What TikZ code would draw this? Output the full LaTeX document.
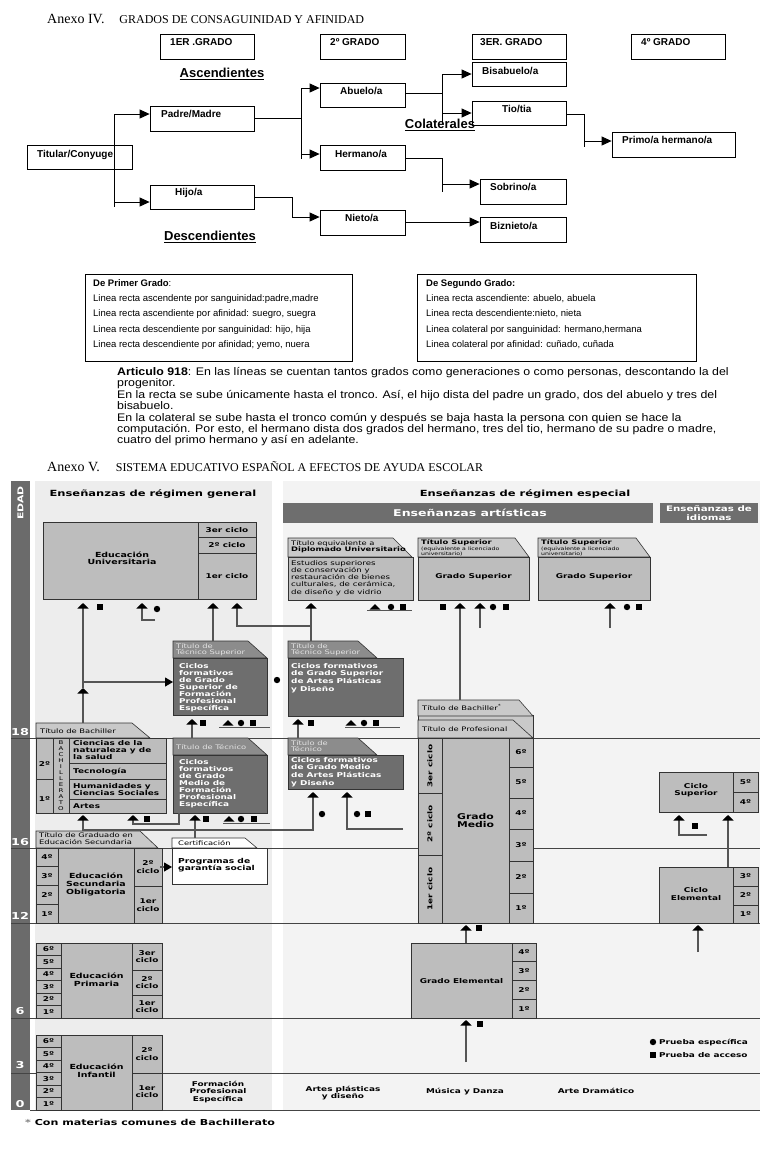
\documentclass[tikz,border=0pt]{standalone}
\usepackage{fontspec}
\setmainfont{Liberation Serif}
\newfontfamily\arialf{Liberation Sans}
\newfontfamily\arialw{Liberation Sans}[FakeStretch=1.123]
\newfontfamily\vf{DejaVu Sans}[FakeStretch=1.35]
\usetikzlibrary{arrows.meta}
\definecolor{edadc}{HTML}{6B6B6B}
\definecolor{panl}{HTML}{EDEDED}
\definecolor{panr}{HTML}{F3F3F3}
\definecolor{boxc}{HTML}{BDBDBD}
\definecolor{darkc}{HTML}{6E6E6E}
\definecolor{tabd}{HTML}{8C8C8C}
\definecolor{tabl}{HTML}{C9C9C9}
\definecolor{bordc}{HTML}{333333}
\definecolor{stemc}{HTML}{555555}
\definecolor{linec}{HTML}{444444}
\definecolor{tabtext}{HTML}{E2E2E2}
\newcommand{\Rect}[6]{\node[bx, fill=#6, minimum width={(#4)-(#2)}, minimum height={(#5)-(#3)}] (#1) at (#2,#3) {};}
\newcommand{\TabS}[6]{\filldraw[fill=#5, draw=bordc, line width=0.6pt] (#1,#4) -- (#1,#2) -- ({#3-#6},#2) -- (#3,#4) -- cycle;}
\newcommand{\MTri}[2]{\fill[black] ({#1-5.5},{#2+2.5}) -- ({#1+5.5},{#2+2.5}) -- (#1,{#2-3}) -- cycle;}
\newcommand{\MSq}[2]{\fill[black] ({#1-3},{#2-3}) rectangle ({#1+3},{#2+3});}
\newcommand{\MCir}[2]{\fill[black] (#1,#2) circle (3.2pt);}
\begin{document}
\begin{tikzpicture}[x=1pt,y=-1pt,
  tb/.style={draw=black, line width=0.8pt, inner sep=0pt},
  lab/.style={font=\arialf\bfseries\fontsize{10}{10}\selectfont, inner sep=0pt, anchor=mid west},
  hdl/.style={font=\arialf\bfseries\fontsize{13}{13}\selectfont, inner sep=0pt},
  tl/.style={draw=black, line width=0.8pt},
  tarr/.style={draw=black, line width=0.8pt, -{Triangle[width=9pt,length=10pt]}},
  sm/.style={font=\arialf\fontsize{9.5}{10}\selectfont, inner sep=0pt, anchor=mid west},
  para/.style={font=\arialw\fontsize{11}{11}\selectfont, inner sep=0pt, anchor=mid west},
  bx/.style={draw=bordc, line width=0.7pt, inner sep=0pt, anchor=north west},
  il/.style={draw=bordc, line width=0.7pt},
  agel/.style={draw=linec, line width=0.8pt},
  vh/.style={font=\vf\bfseries\fontsize{8.5}{9}\selectfont, inner sep=0pt},
  vb/.style={font=\vf\bfseries\fontsize{6.6}{7.3}\selectfont, inner sep=0pt, align=center},
  vbl/.style={font=\vf\bfseries\fontsize{6.6}{7}\selectfont, inner sep=0pt, align=left, anchor=north west},
  vn/.style={font=\vf\fontsize{6.2}{6.8}\selectfont, inner sep=0pt, align=left, anchor=north west},
  agen/.style={font=\vf\bfseries\fontsize{9.5}{9.5}\selectfont, text=white, inner sep=0pt},
  upar/.style={draw=stemc, line width=1.1pt, -{Triangle[width=11pt,length=5.5pt,color=black]}},
  rtar/.style={draw=stemc, line width=1.1pt, -{Triangle[width=9pt,length=8pt,color=black]}}]
\useasboundingbox (0,0) rectangle (771,1154);
\fill[white] (0,0) rectangle (771,1154);

% ================= ANEXO IV =================
\node[anchor=base west, inner sep=0pt] (ttl4) at (47,23) {\fontsize{14}{14}\selectfont Anexo IV.\hspace{15pt}\fontsize{12}{12}\selectfont GRADOS DE CONSAGUINIDAD Y AFINIDAD};

\node[tb, minimum width=94, minimum height=25] (g1) at (207,46.5) {};
\node[lab] (g1t) at (170,43) {1ER .GRADO};
\node[tb, minimum width=85, minimum height=25] (g2) at (362.5,46.5) {};
\node[lab] (g2t) at (330,43) {2º GRADO};
\node[tb, minimum width=94, minimum height=25] (g3) at (519,46.5) {};
\node[lab] (g3t) at (480,43) {3ER. GRADO};
\node[tb, minimum width=94, minimum height=25] (g4) at (678,46.5) {};
\node[lab] (g4t) at (641,43) {4º GRADO};

\node[tb, minimum width=105, minimum height=24] (tit) at (79.5,157) {};
\node[tb, minimum width=104, minimum height=25] (pad) at (202,118.5) {};
\node[tb, minimum width=104, minimum height=24] (hij) at (202,197) {};
\node[tb, minimum width=85, minimum height=24] (abu) at (362.5,95) {};
\node[tb, minimum width=85, minimum height=25] (her) at (362.5,157.5) {};
\node[tb, minimum width=85, minimum height=25] (nie) at (362.5,222.5) {};
\node[tb, minimum width=94, minimum height=24] (bis) at (519,74) {};
\node[tb, minimum width=94, minimum height=24] (tio) at (519,113) {};
\node[tb, minimum width=86, minimum height=25] (sob) at (523,191.5) {};
\node[tb, minimum width=86, minimum height=25] (biz) at (523,229.5) {};
\node[tb, minimum width=123, minimum height=25] (pri) at (673.5,144.5) {};

\node[lab] (titt) at (37,155) {Titular/Conyuge};
\node[lab] (padt) at (161,115) {Padre/Madre};
\node[lab] (hijt) at (175,193) {Hijo/a};
\node[lab] (abut) at (340,92) {Abuelo/a};
\node[lab] (hert) at (335,155) {Hermano/a};
\node[lab] (niet) at (345,219) {Nieto/a};
\node[lab] (bist) at (482,72) {Bisabuelo/a};
\node[lab] (tiot) at (502,110) {Tio/tia};
\node[lab] (sobt) at (490,188) {Sobrino/a};
\node[lab] (bizt) at (490,227) {Biznieto/a};
\node[lab] (prit) at (622,141) {Primo/a hermano/a};

\node[hdl] (asc) at (222,74) {\underline{Ascendientes}};
\node[hdl] (col) at (440,125) {\underline{Colaterales}};
\node[hdl] (des) at (210,237) {\underline{Descendientes}};

% connectors
\coordinate (ta) at (114,114); \coordinate (tb2) at (114,207); \coordinate (tc) at (114,202);
\draw[tl] (ta) -- (tb2);
\draw[tarr] (ta) -- (pad.west |- ta);
\draw[tarr] (tc) -- (hij.west |- tc);
\coordinate (pa) at (301,118); \coordinate (pb) at (301,88); \coordinate (pc) at (301,159); \coordinate (pd) at (301,154);
\draw[tl] (pad.east |- pa) -- (pa);
\draw[tl] (pb) -- (pc);
\draw[tarr] (pb) -- (abu.west |- pb);
\draw[tarr] (pd) -- (her.west |- pd);
\coordinate (aa) at (442,93); \coordinate (ab) at (442,74); \coordinate (ac) at (442,124); \coordinate (ad) at (442,113);
\draw[tl] (abu.east |- aa) -- (aa);
\draw[tl] (ab) -- (ac);
\draw[tarr] (ab) -- (bis.west |- ab);
\draw[tarr] (ad) -- (tio.west |- ad);
\coordinate (ha) at (442,158); \coordinate (hb) at (442,192); \coordinate (hc) at (442,184);
\draw[tl] (her.east |- ha) -- (ha) -- (hb);
\draw[tarr] (hc) -- (sob.west |- hc);
\coordinate (ia) at (292,197); \coordinate (ib) at (292,217);
\draw[tl] (hij.east |- ia) -- (ia) -- (ib);
\draw[tarr] (ib) -- (nie.west |- ib);
\coordinate (na) at (405,222);
\draw[tarr] (na) -- (biz.west |- na);
\coordinate (oa) at (584,114); \coordinate (ob) at (584,147); \coordinate (oc) at (584,141);
\draw[tl] (tio.east |- oa) -- (oa) -- (ob);
\draw[tarr] (oc) -- (pri.west |- oc);

% text boxes
\node[tb, minimum width=267, minimum height=87, anchor=north west] (bx1) at (85,274) {};
\node[sm] (b1a) at (93,284) {\textbf{De Primer Grado}:};
\node[sm] (b1b) at (93,299) {Linea recta ascendente por sanguinidad:padre,madre};
\node[sm] (b1c) at (93,314.5) {Linea recta ascendiente por afinidad: suegro, suegra};
\node[sm] (b1d) at (93,330) {Linea recta descendiente por sanguinidad: hijo, hija};
\node[sm] (b1e) at (93,345.5) {Linea recta descendiente por afinidad; yemo, nuera};
\node[tb, minimum width=279, minimum height=87, anchor=north west] (bx2) at (417,274) {};
\node[sm] (b2a) at (426,284) {\textbf{De Segundo Grado:}};
\node[sm] (b2b) at (426,299) {Linea recta ascendiente: abuelo, abuela};
\node[sm] (b2c) at (426,314.5) {Linea recta descendiente:nieto, nieta};
\node[sm] (b2d) at (426,330) {Linea colateral por sanguinidad: hermano,hermana};
\node[sm] (b2e) at (426,345.5) {Linea colateral por afinidad: cuñado, cuñada};

\node[para] (p1) at (117,373) {\textbf{Articulo 918}: En las líneas se cuentan tantos grados como generaciones o como personas, descontando la del};
\node[para] (p2) at (117,384) {progenitor.};
\node[para] (p3) at (117,396) {En la recta se sube únicamente hasta el tronco. Así, el hijo dista del padre un grado, dos del abuelo y tres del};
\node[para] (p4) at (117,407) {bisabuelo.};
\node[para] (p5) at (117,419) {En la colateral se sube hasta el tronco común y después se baja hasta la persona con quien se hace la};
\node[para] (p6) at (117,430) {computación. Por esto, el hermano dista dos grados del hermano, tres del tio, hermano de su padre o madre,};
\node[para] (p7) at (117,441) {cuatro del primo hermano y así en adelante.};

% ================= ANEXO V =================
\node[anchor=base west, inner sep=0pt] (ttl5) at (47,471) {\fontsize{14}{14}\selectfont Anexo V.\hspace{16pt}\fontsize{12}{12}\selectfont SISTEMA EDUCATIVO ESPAÑOL A EFECTOS DE AYUDA ESCOLAR};

\fill[edadc] (11,481) rectangle (30,1110);
\fill[panl] (35,481) rectangle (272,1110);
\fill[panr] (283,481) rectangle (760,1110);
\node[rotate=90, font=\vf\bfseries\fontsize{8}{8}\selectfont, text=white, inner sep=0pt] (edad) at (20.5,503) {EDAD};
\foreach \yy in {738,848,923,1018,1073} \draw[agel] (11,\yy) -- (760,\yy);
\draw[agel] (30,1110) -- (760,1110);
\node[agen] (a18) at (20,732) {18};
\node[agen] (a16) at (20,842) {16};
\node[agen] (a12) at (20,916) {12};
\node[agen] (a6) at (20,1011) {6};
\node[agen] (a3) at (20,1065) {3};
\node[agen] (a0) at (20,1104) {0};

\node[vh] (hgen) at (153,494) {Enseñanzas de régimen general};
\node[vh] (hesp) at (525,494) {Enseñanzas de régimen especial};
\fill[darkc] (283,503) rectangle (653,523);
\node[vh, text=white, font=\vf\bfseries\fontsize{9.3}{9}\selectfont] (hart) at (470,513) {Enseñanzas artísticas};
\fill[darkc] (660,503) rectangle (758,523);
\node[vb, text=white, font=\vf\bfseries\fontsize{7.6}{8.2}\selectfont] (hidi) at (709,513) {Enseñanzas de\\idiomas};

% Universitaria
\Rect{univ}{43}{522}{256}{599}{boxc}
\draw[il] (198,522) -- (198,599); \draw[il] (198,537) -- (256,537); \draw[il] (198,553) -- (256,553);
\node[vb, font=\vf\bfseries\fontsize{7}{7.5}\selectfont] (univt) at (122,558) {Educación\\Universitaria};
\node[vb] at (227,530) {3er ciclo};
\node[vb] at (227,545) {2º ciclo};
\node[vb] at (227,576) {1er ciclo};

% Diplomado
\TabS{288}{538}{412}{557}{tabl}{19}
\node[vn] (dipt) at (291,540) {Título equivalente a\\\textbf{Diplomado Universitario}};
\Rect{diplo}{288}{557}{413}{600}{boxc}
\node[vn, font=\vf\fontsize{6.4}{7.3}\selectfont] (dipb) at (291,560) {Estudios superiores\\de conservación y\\restauración de bienes\\culturales, de cerámica,\\de diseño y de vidrio};

% Grado Superior 1 & 2
\TabS{418}{538}{529}{557}{tabl}{14}
\node[vn, font=\vf\bfseries\fontsize{6.2}{6.8}\selectfont] at (421,539.5) {Título Superior};
\node[vn, font=\vf\fontsize{4.6}{4.8}\selectfont] at (421,546.5) {(equivalente a licenciado\\universitario)};
\Rect{gs1}{418}{557}{529}{600}{boxc}
\node[vb] at (473.5,577) {Grado Superior};
\TabS{538}{538}{650}{557}{tabl}{14}
\node[vn, font=\vf\bfseries\fontsize{6.2}{6.8}\selectfont] at (541,539.5) {Título Superior};
\node[vn, font=\vf\fontsize{4.6}{4.8}\selectfont] at (541,546.5) {(equivalente a licenciado\\universitario)};
\Rect{gs2}{538}{557}{650}{600}{boxc}
\node[vb] at (594,577) {Grado Superior};

% FP Tecnico Superior
\TabS{173}{641}{267}{658}{tabd}{19}
\node[vn, text=tabtext] at (176,643) {Título de\\Técnico Superior};
\Rect{fpts}{173}{658}{267}{715}{darkc}
\node[vbl, text=white] at (179,663) {Ciclos\\formativos\\de Grado\\Superior de\\Formación\\Profesional\\Específica};

% Artes Tecnico Superior
\TabS{288}{641}{377}{658}{tabd}{19}
\node[vn, text=tabtext] at (291,643) {Título de\\Técnico Superior};
\Rect{arts}{288}{658}{403}{716}{darkc}
\node[vbl, text=white, font=\vf\bfseries\fontsize{6.6}{7.7}\selectfont] at (291,663) {Ciclos formativos\\de Grado Superior\\de Artes Plásticas\\y Diseño};

% Bachillerato
\TabS{36}{723}{150}{738}{tabl}{18}
\node[vn, anchor=mid west] at (40,731) {Título de Bachiller};
\Rect{bach}{36}{738}{166}{813}{boxc}
\draw[il] (53,738) -- (53,813); \draw[il] (69,738) -- (69,813);
\draw[il] (36,779) -- (53,779);
\draw[il] (69,763) -- (166,763); \draw[il] (69,779) -- (166,779); \draw[il] (69,799) -- (166,799);
\node[vb] at (44.5,764) {2º};
\node[vb] at (44.5,799) {1º};
\node[font=\vf\fontsize{5.2}{6}\selectfont, align=center, inner sep=0pt] at (61,776) {B\\A\\C\\H\\I\\L\\L\\E\\R\\A\\T\\O};
\node[vbl] at (73,740) {Ciencias de la\\naturaleza y de\\la salud};
\node[vb, anchor=mid west] at (73,771) {Tecnología};
\node[vbl] at (73,783) {Humanidades y\\Ciencias Sociales};
\node[vb, anchor=mid west] at (73,806) {Artes};

% Tecnico FP
\TabS{173}{738}{267}{755}{tabd}{19}
\node[vn, text=tabtext, anchor=mid west] at (176,747) {Título de Técnico};
\Rect{tfp}{173}{755}{267}{813}{darkc}
\node[vbl, text=white, font=\vf\bfseries\fontsize{6.6}{7.1}\selectfont] at (179,759) {Ciclos\\formativos\\de Grado\\Medio de\\Formación\\Profesional\\Específica};

% Artes Tecnico medio
\TabS{288}{738}{377}{755}{tabd}{19}
\node[vn, text=tabtext] at (291,740) {Título de\\Técnico};
\Rect{artm}{288}{755}{403}{789}{darkc}
\node[vbl, text=white, font=\vf\bfseries\fontsize{6.6}{7.6}\selectfont] at (291,757) {Ciclos formativos\\de Grado Medio\\de Artes Plásticas\\y Diseño};

% Certificacion
\TabS{172}{838}{257}{848}{white}{12}
\node[vn, anchor=mid west] at (178,843.5) {Certificación};
\Rect{cert}{172}{848}{267}{884}{white}
\node[vbl, font=\vf\bfseries\fontsize{6.8}{7.6}\selectfont] at (178,858) {Programas de\\garantía social};

% ESO
\TabS{36}{831}{158}{848}{tabl}{18}
\node[vn, font=\vf\fontsize{6.2}{6.6}\selectfont] at (39,832.5) {Título de Graduado en\\Educación Secundaria};
\Rect{eso}{36}{848}{162}{923}{boxc}
\draw[il] (58,848) -- (58,923); \draw[il] (134,848) -- (134,923);
\draw[il] (36,866.75) -- (58,866.75); \draw[il] (36,885.5) -- (58,885.5); \draw[il] (36,904.25) -- (58,904.25);
\draw[il] (134,886) -- (162,886);
\node[vb] at (47,857.4) {4º}; \node[vb] at (47,876.1) {3º};
\node[vb] at (47,894.9) {2º}; \node[vb] at (47,913.6) {1º};
\node[vb, font=\vf\bfseries\fontsize{7}{7.6}\selectfont] at (96,884.5) {Educación\\Secundaria\\Obligatoria};
\node[vb] at (148,867) {2º\\ciclo};
\node[vb] at (148,905) {1er\\ciclo};

% Primaria
\Rect{prim}{36}{943}{162}{1018}{boxc}
\draw[il] (61,943) -- (61,1018); \draw[il] (132,943) -- (132,1018);
\foreach \k in {1,...,5} \draw[il] (36,943+12.5*\k) -- (61,943+12.5*\k);
\draw[il] (132,970) -- (162,970); \draw[il] (132,995) -- (162,995);
\node[vb] at (48.5,949.25) {6º}; \node[vb] at (48.5,961.75) {5º};
\node[vb] at (48.5,974.25) {4º}; \node[vb] at (48.5,986.75) {3º};
\node[vb] at (48.5,999.25) {2º}; \node[vb] at (48.5,1011.75) {1º};
\node[vb, font=\vf\bfseries\fontsize{7}{7.6}\selectfont] at (96.5,980) {Educación\\Primaria};
\node[vb] at (147,956.5) {3er\\ciclo};
\node[vb] at (147,982.5) {2º\\ciclo};
\node[vb] at (147,1006.5) {1er\\ciclo};

% Infantil
\Rect{inf}{36}{1035}{162}{1110}{boxc}
\draw[il] (61,1035) -- (61,1110); \draw[il] (132,1035) -- (132,1110);
\foreach \k in {1,...,5} \draw[il] (36,1035+12.5*\k) -- (61,1035+12.5*\k);
\draw[il] (132,1073) -- (162,1073);
\node[vb] at (48.5,1041.25) {6º}; \node[vb] at (48.5,1053.75) {5º};
\node[vb] at (48.5,1066.25) {4º}; \node[vb] at (48.5,1078.75) {3º};
\node[vb] at (48.5,1091.25) {2º}; \node[vb] at (48.5,1103.75) {1º};
\node[vb, font=\vf\bfseries\fontsize{7}{7.6}\selectfont] at (96.5,1071) {Educación\\Infantil};
\node[vb] at (147,1054) {2º\\ciclo};
\node[vb] at (147,1091.5) {1er\\ciclo};

% Grado Medio (musica y danza)
\filldraw[fill=tabl, draw=bordc, line width=0.6pt] (418,715) rectangle (533,738);
\TabS{418}{700}{533}{716}{tabl}{14}
\TabS{418}{720}{533}{738}{tabl}{20}
\node[vn, anchor=mid west] at (422,708) {Título de Bachiller\textsuperscript{*}};
\node[vn, anchor=mid west] at (422,729) {Título de Profesional};
\Rect{gmed}{418}{738}{533}{923}{boxc}
\draw[il] (442,738) -- (442,923); \draw[il] (509,738) -- (509,923);
\draw[il] (418,793) -- (442,793); \draw[il] (418,855) -- (442,855);
\foreach \yy in {767,798,829,861,893} \draw[il] (509,\yy) -- (533,\yy);
\node[vb, rotate=90] at (430,766) {3er ciclo};
\node[vb, rotate=90] at (430,824) {2º ciclo};
\node[vb, rotate=90] at (430,889) {1er ciclo};
\node[vb] at (521,752.5) {6º}; \node[vb] at (521,782.5) {5º};
\node[vb] at (521,813.5) {4º}; \node[vb] at (521,845) {3º};
\node[vb] at (521,877) {2º}; \node[vb] at (521,908) {1º};
\node[vb, font=\vf\bfseries\fontsize{8}{8}\selectfont] at (475.5,821) {Grado\\Medio};

% Grado Elemental
\Rect{gele}{411}{943}{536}{1018}{boxc}
\draw[il] (512,943) -- (512,1018);
\draw[il] (512,961.75) -- (536,961.75); \draw[il] (512,980.5) -- (536,980.5); \draw[il] (512,999.25) -- (536,999.25);
\node[vb] at (461.5,981) {Grado Elemental};
\node[vb] at (524,952.4) {4º}; \node[vb] at (524,971.1) {3º};
\node[vb] at (524,989.9) {2º}; \node[vb] at (524,1008.6) {1º};

% Idiomas
\Rect{csup}{659}{772}{758}{812}{boxc}
\draw[il] (733,772) -- (733,812); \draw[il] (733,792) -- (758,792);
\node[vb] at (696,790) {Ciclo\\Superior};
\node[vb] at (745.5,782) {5º}; \node[vb] at (745.5,802) {4º};
\Rect{cele}{659}{867}{758}{923}{boxc}
\draw[il] (733,867) -- (733,923); \draw[il] (733,886) -- (758,886); \draw[il] (733,905) -- (758,905);
\node[vb] at (696,894) {Ciclo\\Elemental};
\node[vb] at (745.5,876.5) {3º}; \node[vb] at (745.5,895.5) {2º}; \node[vb] at (745.5,914) {1º};

% ---------- arrows and markers ----------
\draw[upar] (bach.north -| 83,0) ++(0,-15) -- (83,688);
\draw[upar] (83,688) -- (83,603);
\draw[rtar] (83,682) -- (fpts.west |- 0,682);
\MSq{100}{607}
\draw[upar] (155,620) -- (142,620) -- (142,603); \MCir{157}{609}
\draw[upar] (213,641) -- (213,603);
\draw[upar] (311,626) -- (237,626) -- (237,603);
\draw[upar] (311,641) -- (311,603);
\MCir{277}{680}
\MTri{375}{607} \MCir{391}{607} \MSq{403}{607}
\draw[stemc, line width=1pt] (367,610) -- (412,610);
\MSq{443}{607}
\draw[upar] (460,700) -- (460,603);
\draw[upar] (480,628) -- (480,603); \MCir{493}{607} \MSq{506}{607}
\draw[upar] (610,628) -- (610,603); \MCir{627}{607} \MSq{639}{607}

\draw[upar] (192,738) -- (192,719); \MSq{203}{723}
\MTri{228}{723} \MCir{241}{723} \MSq{253}{723}
\draw[stemc, line width=1pt] (219,727) -- (270,727);
\draw[upar] (298,738) -- (298,719); \MSq{311}{723}
\MTri{351}{723} \MCir{364}{723} \MSq{376}{723}
\draw[stemc, line width=1pt] (345,727) -- (400,727);

\draw[upar] (179,813) -- (179,824) -- (133,824) -- (133,815); \MSq{147}{819}
\draw[upar] (83,831) -- (83,815);
\draw[upar] (195,838) -- (195,815); \MSq{206}{819}
\MTri{229}{819} \MCir{241}{819} \MSq{254}{819}
\draw[stemc, line width=1pt] (223,823) -- (270,823);
\draw[upar] (83,830) -- (313,830) -- (313,792); \MCir{322}{814}
\draw[upar] (403,829) -- (347,829) -- (347,792); \MCir{357}{814} \MSq{368}{814}
\draw[rtar] (160,867) -- (cert.west |- 0,867);

\draw[upar] (466,943) -- (466,925); \MSq{479}{928}
\draw[upar] (466,1062) -- (466,1020); \MSq{480}{1024}
\draw[upar] (707,835) -- (679,835) -- (679,815); \MSq{695}{826}
\draw[upar] (728,867) -- (728,815);
\draw[upar] (698,952) -- (698,925);

% bottom labels
\node[vb] (lfp) at (218,1092) {Formación\\Profesional\\Específica};
\node[vb] (lap) at (343,1093) {Artes plásticas\\y diseño};
\node[vb] (lmd) at (465,1092) {Música y Danza};
\node[vb] (lad) at (596,1091) {Arte Dramático};

% legend
\MCir{653}{1042}
\node[vb, anchor=mid west] (lg1) at (659,1042) {Prueba específica};
\MSq{653}{1055}
\node[vb, anchor=mid west] (lg2) at (659,1055) {Prueba de acceso};

\node[font=\vf\bfseries\fontsize{8.2}{9}\selectfont, anchor=mid west, inner sep=0pt] (foot) at (25,1123) {{\color{gray}*} Con materias comunes de Bachillerato};
\end{tikzpicture}
\end{document}
